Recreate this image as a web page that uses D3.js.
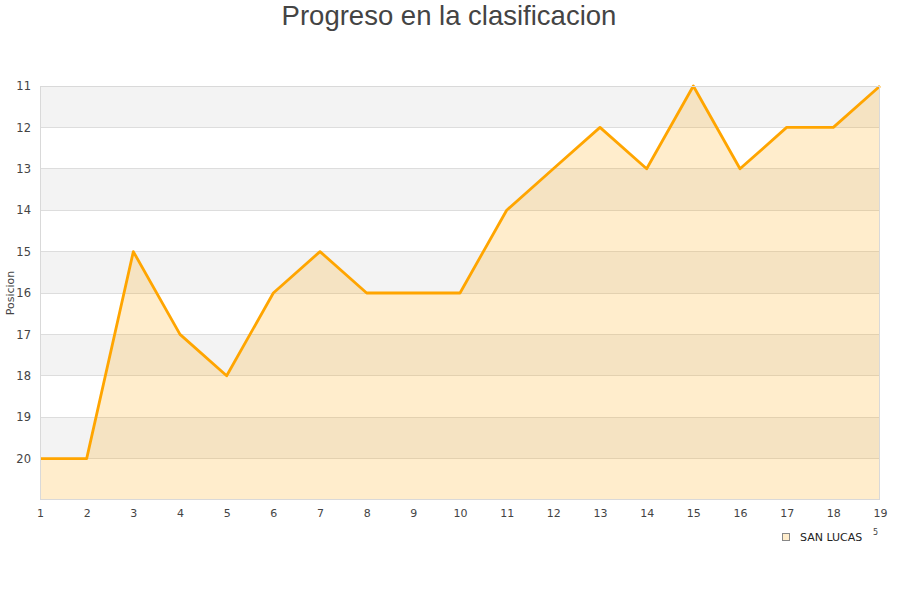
<!DOCTYPE html>
<html><head><meta charset="utf-8">
<script src="https://cdn.jsdelivr.net/npm/d3@7/dist/d3.min.js"></script>
<style>body{margin:0;background:#fff}svg{display:block}</style>
</head><body>
<svg id="c" width="900" height="600"></svg>
<script>
const jornadas = [1,2,3,4,5,6,7,8,9,10,11,12,13,14,15,16,17,18,19];
const posiciones = [20,20,15,17,18,16,15,16,16,16,14,13,12,13,11,13,12,12,11];
const yTicks = [11,12,13,14,15,16,17,18,19,20];
const seriesName = "SAN LUCAS";
const title = "Progreso en la clasificacion";
const yLabel = "Posicion";

const svg = d3.select("#c");
const L=40,R=880,T=86,B=500;
const x = d3.scaleLinear().domain([1,19]).range([L,R]);
const y = d3.scaleLinear().domain([11,21]).range([T,B]);

const bands = [11,13,15,17,19];
svg.append("g").selectAll("rect").data(bands).join("rect")
  .attr("x",L).attr("width",R-L).attr("y",d=>y(d)).attr("height",d=>y(d+1)-y(d))
  .attr("fill","#f3f3f3");
svg.append("g").selectAll("line").data(yTicks).join("line")
  .attr("x1",L).attr("x2",R).attr("y1",d=>y(d)).attr("y2",d=>y(d))
  .attr("stroke","#dddddd").attr("stroke-width",1).attr("shape-rendering","crispEdges");

const pts = jornadas.map((j,i)=>[j,posiciones[i]]);
svg.append("path").datum(pts)
  .attr("d",d3.area().x(d=>x(d[0])).y0(y(21)).y1(d=>y(d[1])))
  .attr("fill","rgba(255,165,0,0.2)");
svg.append("path").datum(pts)
  .attr("d",d3.line().x(d=>x(d[0])).y(d=>y(d[1])))
  .attr("fill","none").attr("stroke","#ffa500").attr("stroke-width",2.8).attr("stroke-linejoin","round");

svg.append("rect").attr("x",L+0.5).attr("y",T+0.5).attr("width",R-L-1).attr("height",B-T-1)
  .attr("fill","none").attr("stroke","#d9d9d9").attr("stroke-width",1);

const yAxis = d3.axisLeft(y).tickValues(yTicks).tickSize(0).tickPadding(9);
const gy = svg.append("g").attr("transform",`translate(${L},0)`).call(yAxis);
gy.select(".domain").remove();
gy.selectAll("text").attr("font-family","DejaVu Sans").attr("font-size",11.5).attr("fill","#444");
const xAxis = d3.axisBottom(x).tickValues(jornadas).tickFormat(d3.format("d")).tickSize(0).tickPadding(9);
const gx = svg.append("g").attr("transform",`translate(0,${B})`).call(xAxis);
gx.select(".domain").remove();
gx.selectAll("text").attr("font-family","DejaVu Sans").attr("font-size",11).attr("fill","#444");

svg.append("text").attr("x",449).attr("y",25).attr("text-anchor","middle")
  .attr("font-family","Liberation Sans, Arial").attr("font-size",27.5).attr("fill","#444").text(title);
svg.append("text").attr("transform","translate(14,293) rotate(-90)").attr("text-anchor","middle")
  .attr("font-family","DejaVu Sans").attr("font-size",11).attr("fill","#444").text(yLabel);

svg.append("rect").attr("x",782.5).attr("y",533.5).attr("width",7).attr("height",7)
  .attr("fill","#ffedcc").attr("stroke","#888").attr("stroke-width",1);
svg.append("text").attr("x",800).attr("y",541).attr("font-family","DejaVu Sans").attr("font-size",11)
  .attr("fill","#222").text(seriesName);
svg.append("text").attr("x",873).attr("y",535).attr("font-family","DejaVu Sans").attr("font-size",8)
  .attr("fill","#444").text("5");
</script>
</body></html>
